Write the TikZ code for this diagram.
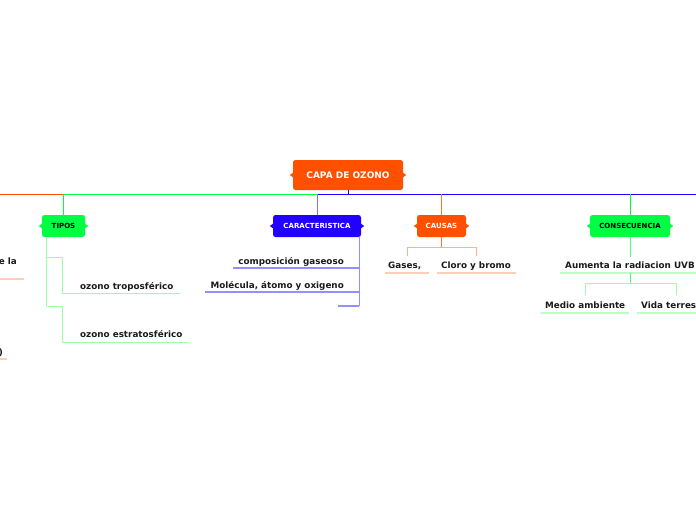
\documentclass[tikz,border=0pt]{standalone}
\usepackage{fontspec}
\setmainfont{DejaVu Sans}
\definecolor{corange}{HTML}{FF5000}
\definecolor{cgreen}{HTML}{00FF44}
\definecolor{cblue}{HTML}{2200FF}
\definecolor{lgreen}{HTML}{99FFAA}
\definecolor{ugreen}{HTML}{B8FFC8}
\definecolor{lblue}{HTML}{9090FF}
\definecolor{lorange}{HTML}{FFB090}
\definecolor{uorange}{HTML}{FFCCB8}
\definecolor{txt}{HTML}{1A1A1A}
\newcommand\boxbumps[2]{%
  \fill[#2] (#1.west) ++(0.5,-2.5) -- ++(-3.5,2.5) -- ++(3.5,2.5) -- cycle;
  \fill[#2] (#1.east) ++(-0.5,-2.5) -- ++(3.5,2.5) -- ++(-3.5,2.5) -- cycle;}
\begin{document}
\begin{tikzpicture}[x=1pt,y=-1pt,
  box/.style={rounded corners=2.5pt, minimum height=22pt, inner sep=0pt,
    font=\bfseries\fontsize{7}{8}\selectfont},
  lbl/.style={font=\bfseries\fontsize{8.8}{10}\selectfont, inner sep=0pt, text=txt},
  conn/.style={line width=1pt},
  uline/.style={line width=1.3pt}]
\useasboundingbox (0,0) rectangle (696,520);
\clip (0,0) rectangle (696,520);

% main nodes
\node[box, fill=corange, text=white, minimum width=110pt, minimum height=30pt,
  font=\bfseries\fontsize{9}{10}\selectfont] (root) at (348,175) {CAPA DE OZONO};
\node[box, fill=cgreen, text=black, minimum width=43pt] (tipos) at (63.5,226) {TIPOS};
\node[box, fill=cblue, text=white, minimum width=88pt] (car) at (317,226) {CARACTERISTICA};
\node[box, fill=corange, text=white, minimum width=49pt] (causas) at (441.5,226) {CAUSAS};
\node[box, fill=cgreen, text=black, minimum width=80pt] (cons) at (630,226) {CONSECUENCIA};
\boxbumps{root}{corange}
\boxbumps{tipos}{cgreen}
\boxbumps{car}{cblue}
\boxbumps{causas}{corange}
\boxbumps{cons}{cgreen}

% main bar
\coordinate (hroot) at (348,194);
\coordinate (hleft) at (0,194);
\coordinate (htipos) at (63.5,194);
\coordinate (hcar) at (317,194);
\coordinate (hcausas) at (441.5,194);
\coordinate (hcons) at (630,194);
\coordinate (hright) at (696,194);
\draw[conn, cblue!70!black] (root.south) -- (hroot);
\draw[conn, corange] (hleft) -- (htipos);
\draw[conn, cgreen] (htipos) -- (hcar);
\draw[conn, cblue] (hcar) -- (hright);
\draw[conn, cgreen] (htipos) -- (tipos.north);
\draw[conn, lblue!80!cblue] (hcar) -- (car.north);
\draw[conn, corange!80] (hcausas) -- (causas.north);
\draw[conn, cgreen] (hcons) -- (cons.north);

% left cut-off branch
\node[lbl, anchor=base east] (lefta) at (17,264) {e la};
\coordinate (lau1) at (0,279);
\coordinate (lau2) at (24,279);
\draw[uline, uorange] (lau1) -- (lau2);
\node[lbl, anchor=base east] (leftb) at (3,355) {0)};
\coordinate (lbu1) at (0,359);
\coordinate (lbu2) at (7,359);
\draw[uline, uorange] (lbu1) -- (lbu2);

% TIPOS children
\coordinate (tv0) at (46.5,237);
\coordinate (tv1) at (46.5,257);
\coordinate (tv2) at (46.5,306);
\coordinate (tb1) at (63,257);
\coordinate (tb2) at (63,306);
\coordinate (tk1) at (62,257);
\coordinate (tk2) at (62,306);
\node[lbl, anchor=base west] (tropo) at (80,289) {ozono troposférico};
\node[lbl, anchor=base west] (estra) at (80,337.5) {ozono estratosférico};
\coordinate (tu1) at (62,293);
\coordinate (tu1e) at (180,293);
\coordinate (tu2) at (62,342);
\coordinate (tu2e) at (188,342);
\draw[conn, lgreen] (tv0) -- (tv2);
\draw[conn, lgreen] (tv1) -- (tb1);
\draw[conn, lgreen] (tv2) -- (tb2);
\draw[conn, lgreen] (tk1) -- (tu1) -- (tu1e);
\draw[conn, lgreen] (tk2) -- (tu2) -- (tu2e);

% CARACTERISTICA children
\coordinate (cv0) at (359,237);
\coordinate (cv3) at (359,306);
\coordinate (cu1) at (233,268);
\coordinate (cu1e) at (359,268);
\coordinate (cu2) at (205,292);
\coordinate (cu2e) at (359,292);
\coordinate (cu3) at (338,306);
\node[lbl, anchor=base east] (comp) at (344,264) {composición gaseoso};
\node[lbl, anchor=base east] (mol) at (344,288) {Molécula, átomo y oxigeno};
\draw[conn, lblue] (cv0) -- (cv3);
\draw[uline, lblue] (cu1) -- (cu1e);
\draw[uline, lblue] (cu2) -- (cu2e);
\draw[uline, lblue] (cu3) -- (cv3);

% CAUSAS children
\coordinate (kv) at (441.5,247);
\coordinate (kl) at (407,247);
\coordinate (kr) at (476,247);
\coordinate (kld) at (407,256);
\coordinate (krd) at (476,256);
\draw[conn, corange!80] (causas.south) -- (kv);
\draw[conn, lorange] (kld) -- (kl) -- (kr) -- (krd);
\node[lbl, anchor=base west] (gases) at (388,268.5) {Gases,};
\node[lbl, anchor=base west] (cloro) at (441,268.5) {Cloro y bromo};
\coordinate (gu1) at (385,273);
\coordinate (gu1e) at (429,273);
\coordinate (gu2) at (437,273);
\coordinate (gu2e) at (516,273);
\draw[uline, uorange] (gu1) -- (gu1e);
\draw[uline, uorange] (gu2) -- (gu2e);

% CONSECUENCIA children
\coordinate (nv1) at (630,257);
\coordinate (nu) at (560,273);
\coordinate (nuj) at (630,273);
\coordinate (nue) at (696,273);
\coordinate (nj) at (630,283);
\coordinate (nl) at (585,283);
\coordinate (nr) at (676,283);
\coordinate (nld) at (585,295);
\coordinate (nrd) at (676,295);
\node[lbl, anchor=base west] (aum) at (565,268.5) {Aumenta la radiacion UVB};
\draw[conn, cgreen!70] (cons.south) -- (nv1);
\draw[uline, ugreen] (nu) -- (nue);
\draw[conn, cgreen!70] (nuj) -- (nj);
\draw[conn, lgreen] (nld) -- (nl) -- (nr) -- (nrd);
\node[lbl, anchor=base west] (medio) at (545,308.5) {Medio ambiente};
\node[lbl, anchor=base west] (vida) at (641,308.5) {Vida terrestre};
\coordinate (mu) at (541,313);
\coordinate (mue) at (629,313);
\coordinate (vu) at (637,313);
\coordinate (vue) at (696,313);
\draw[uline, ugreen] (mu) -- (mue);
\draw[uline, ugreen] (vu) -- (vue);
\end{tikzpicture}
\end{document}
